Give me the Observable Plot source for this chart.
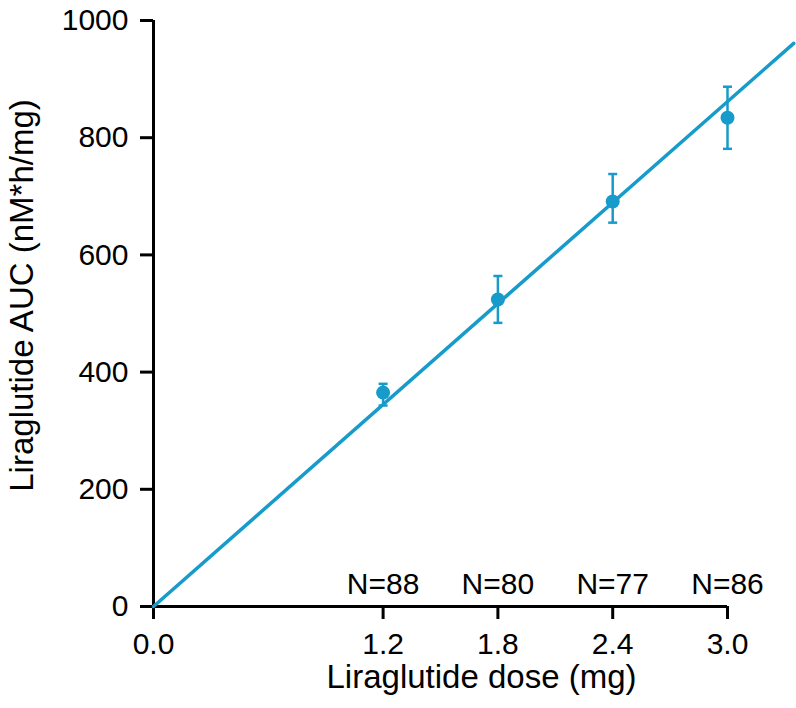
<!DOCTYPE html>
<html>
<head>
<meta charset="utf-8">
<script src="https://cdn.jsdelivr.net/npm/d3@7"></script>
<script src="https://cdn.jsdelivr.net/npm/@observablehq/plot@0.6"></script>
<style>
  html, body { margin: 0; padding: 0; background: #fff; }
  #chart svg { display: block; }
</style>
</head>
<body>
<div id="chart"></div>
<script>
// Data
const doses = [1.2, 1.8, 2.4, 3.0];
const auc = [365, 524, 691, 834];
const aucLow = [343, 484, 655, 781];
const aucHigh = [380, 564, 738, 887];
const nLabels = ["N=88", "N=80", "N=77", "N=86"];
const fitX = [0, 3.346];
const fitY = [0, 961];
const xTicks = [0, 1.2, 1.8, 2.4, 3.0];
const yTicks = [0, 200, 400, 600, 800, 1000];
const xTitle = "Liraglutide dose (mg)";
const yTitle = "Liraglutide AUC (nM*h/mg)";

const color = "#179bca";
const font = "Liberation Sans, Arial, Helvetica, sans-serif";

const points = doses.map((d, i) => ({x: d, y: auc[i], low: aucLow[i], high: aucHigh[i], n: nLabels[i]}));
const fit = fitX.map((x, i) => ({x, y: fitY[i]}));

const capSymbol = {
  draw(context, size) {
    const w = Math.sqrt(size / Math.PI);
    context.moveTo(-w, 0);
    context.lineTo(w, 0);
  }
};

const chart = Plot.plot({
  width: 796,
  height: 708,
  marginLeft: 153,
  marginRight: 69,
  marginTop: 20,
  marginBottom: 102,
  style: {fontFamily: font, fontSize: "30px", color: "#000", background: "#fff"},
  x: {domain: [0, 3], ticks: xTicks},
  y: {domain: [0, 1000], ticks: yTicks},
  marks: [
    Plot.ruleX([0], {y1: 0, y2: 1000, stroke: "#000", strokeWidth: 3}),
    Plot.ruleY([0], {x1: 0, x2: 3, stroke: "#000", strokeWidth: 3}),
    Plot.axisY({ticks: yTicks, tickFormat: d3.format("d"), tickSize: 13, tickPadding: 12, strokeWidth: 3, fontSize: 30, label: null}),
    Plot.axisX({ticks: xTicks, tickFormat: d3.format(".1f"), tickSize: 13, tickPadding: 13, strokeWidth: 3, fontSize: 30, label: null}),
    Plot.line(fit, {x: "x", y: "y", stroke: color, strokeWidth: 3.5, clip: false}),
    Plot.ruleX(points, {x: "x", y1: "low", y2: "high", stroke: color, strokeWidth: 2.5}),
    Plot.dot(points, {x: "x", y: "low", symbol: capSymbol, r: 4.5, stroke: color, strokeWidth: 2.5}),
    Plot.dot(points, {x: "x", y: "high", symbol: capSymbol, r: 4.5, stroke: color, strokeWidth: 2.5}),
    Plot.dot(points, {x: "x", y: "y", r: 7, fill: color}),
    Plot.text(points, {x: "x", y: 0, text: "n", dy: -22, fontSize: 30, fill: "#000"}),
    Plot.text([xTitle], {frameAnchor: "bottom-left", dx: 481 - 153, dy: 81, textAnchor: "middle", fontSize: 33, fill: "#000"}),
    Plot.text([yTitle], {frameAnchor: "left", dx: 22 - 153, dy: -18, rotate: -90, textAnchor: "middle", fontSize: 33, fill: "#000"})
  ]
});

document.getElementById("chart").appendChild(chart);
</script>
</body>
</html>
